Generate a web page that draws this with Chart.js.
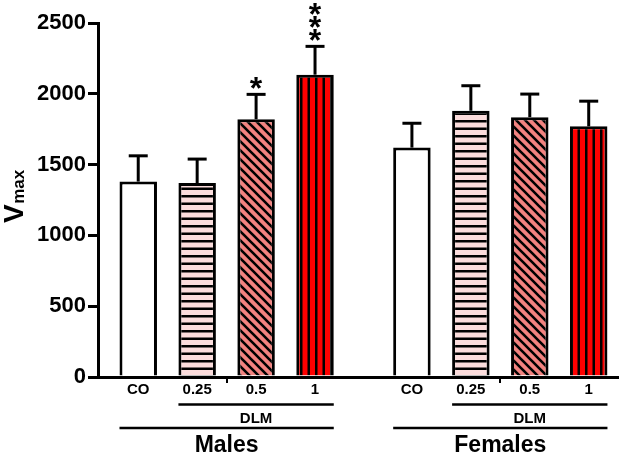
<!DOCTYPE html>
<html><head><meta charset="utf-8">
<script src="https://cdn.jsdelivr.net/npm/chart.js@4/dist/chart.umd.min.js"></script>
<style>html,body{margin:0;padding:0;background:#fff;}</style>
</head><body>
<canvas id="c" width="633" height="457"></canvas>
<script>
// ---- data ----
const groups = ['Males', 'Females'];
const doses = ['CO', '0.25', '0.5', '1'];
const treatment = 'DLM';
const maleMeans = [1380, 1370, 1820, 2135];
const maleSEM = [182, 169, 176, 200];
const femaleMeans = [1620, 1880, 1835, 1770];
const femaleSEM = [172, 177, 163, 178];
const maleSig = ['', '', '*', '***'];
const femaleSig = ['', '', '', ''];
const yTicks = [0, 500, 1000, 1500, 2000, 2500];
const yTitleMain = 'V';
const yTitleSub = 'max';

const meansByGroup = [maleMeans, femaleMeans];
const semByGroup = [maleSEM, femaleSEM];
const sigByGroup = [maleSig, femaleSig];

const FONT = '"Liberation Sans", Arial, sans-serif';
Chart.defaults.font.family = FONT;

const canvas = document.getElementById('c');
const mainCtx = canvas.getContext('2d');

function makePattern(kind, bg) {
  const t = document.createElement('canvas');
  const x = t.getContext('2d');
  if (kind === 'h') {
    t.width = 4; t.height = 15;
    x.fillStyle = bg; x.fillRect(0, 0, 4, 15);
    x.fillStyle = '#000'; x.fillRect(0, 0, 4, 2.5); x.fillRect(0, 7.5, 4, 2.5);
  } else if (kind === 'v') {
    t.width = 15; t.height = 4;
    x.fillStyle = bg; x.fillRect(0, 0, 15, 4);
    x.fillStyle = '#000'; x.fillRect(0, 0, 2.5, 4); x.fillRect(7.5, 0, 2.5, 4);
  } else {
    const p = 9;
    t.width = p; t.height = p;
    x.fillStyle = bg; x.fillRect(0, 0, p, p);
    x.strokeStyle = '#000'; x.lineWidth = 2.6;
    x.beginPath();
    x.moveTo(-2, -2); x.lineTo(p + 2, p + 2);
    x.moveTo(-2, p - 2); x.lineTo(2, p + 2);
    x.moveTo(p - 2, -2); x.lineTo(p + 2, 2);
    x.stroke();
  }
  return mainCtx.createPattern(t, 'repeat');
}

const fills = [
  '#ffffff',
  makePattern('h', '#fbdcdc'),
  makePattern('d', '#f2827f'),
  makePattern('v', '#ff0000')
];

const datasets = doses.map((d, i) => ({
  label: d,
  data: groups.map((g, gi) => ({ x: gi, y: meansByGroup[gi][i] })),
  backgroundColor: fills[i],
  borderColor: '#000',
  borderWidth: 3,
  categoryPercentage: 0.8613,
  barPercentage: 0.636
}));

const annotate = {
  id: 'annotate',
  afterDatasetsDraw(chart) {
    const ctx = chart.ctx;
    const ys = chart.scales.y;
    ctx.save();
    ctx.strokeStyle = '#000';
    ctx.fillStyle = '#000';
    ctx.lineCap = 'butt';
    chart.data.datasets.forEach((ds, d) => {
      const meta = chart.getDatasetMeta(d);
      meta.data.forEach((bar, g) => {
        const top = ys.getPixelForValue(meansByGroup[g][d] + semByGroup[g][d]);
        ctx.lineWidth = 3;
        ctx.beginPath();
        ctx.moveTo(bar.x, bar.y);
        ctx.lineTo(bar.x, top);
        ctx.stroke();
        ctx.beginPath();
        ctx.moveTo(bar.x - 9.5, top);
        ctx.lineTo(bar.x + 9.5, top);
        ctx.stroke();
        const sig = sigByGroup[g][d];
        if (sig) {
          ctx.font = 'bold 32px ' + FONT;
          ctx.textAlign = 'center';
          ctx.textBaseline = 'alphabetic';
          const m = ctx.measureText('*');
          const off = (m.actualBoundingBoxAscent - m.actualBoundingBoxDescent) / 2;
          for (let k = 0; k < sig.length; k++) {
            const cy = top - 11 - k * 13.3;
            ctx.fillText('*', bar.x, cy + off);
          }
        }
      });
    });
    ctx.restore();
  },
  afterDraw(chart) {
    const ctx = chart.ctx;
    ctx.save();
    ctx.fillStyle = '#000';
    ctx.strokeStyle = '#000';
    ctx.textBaseline = 'alphabetic';
    ctx.textAlign = 'center';
    const metas = doses.map((d, i) => chart.getDatasetMeta(i));
    groups.forEach((gname, g) => {
      const bars = metas.map(m => m.data[g]);
      ctx.font = 'bold 15px ' + FONT;
      bars.forEach((b, i) => ctx.fillText(doses[i], b.x, 393.5));
      const l1 = bars[1].x - bars[1].width / 2;
      const r = bars[3].x + bars[3].width / 2;
      const l0 = bars[0].x - bars[0].width / 2;
      ctx.lineWidth = 2.5;
      ctx.beginPath(); ctx.moveTo(l1, 404.5); ctx.lineTo(r, 404.5); ctx.stroke();
      ctx.fillText(treatment, (l1 + r) / 2, 423.3);
      ctx.beginPath(); ctx.moveTo(l0, 428); ctx.lineTo(r, 428); ctx.stroke();
      ctx.font = 'bold 23px ' + FONT;
      ctx.fillText(gname, (l0 + r) / 2, 452.3);
    });
    // y-axis title V_max
    ctx.translate(22.7, 223);
    ctx.rotate(-Math.PI / 2);
    ctx.textAlign = 'left';
    ctx.font = 'bold 28px ' + FONT;
    ctx.fillText(yTitleMain, 0, 0);
    const w = ctx.measureText(yTitleMain).width;
    ctx.font = 'bold 17px ' + FONT;
    ctx.fillText(yTitleSub, w + 0.5, 1.5);
    ctx.restore();
  }
};

new Chart(canvas, {
  type: 'bar',
  data: { datasets },
  options: {
    responsive: false,
    animation: false,
    events: [],
    layout: { padding: { top: 23, right: 15, bottom: 0, left: 0 } },
    plugins: { legend: { display: false }, tooltip: { enabled: false } },
    scales: {
      x: {
        type: 'linear',
        offset: false,
        min: -0.47,
        max: 1.43,
        afterBuildTicks: s => { s.ticks = groups.map((g, i) => ({ value: i })); },
        ticks: { display: false },
        grid: { offset: false, drawOnChartArea: false, color: '#000', lineWidth: 2, tickLength: 6 },
        border: { color: '#000', width: 3 },
        afterFit: s => { s.height = 80; }
      },
      y: {
        min: yTicks[0],
        max: yTicks[yTicks.length - 1],
        afterBuildTicks: s => { s.ticks = yTicks.map(v => ({ value: v })); },
        ticks: { color: '#000', padding: 2, font: { size: 22, weight: 'bold' }, callback: v => String(v) },
        grid: { drawOnChartArea: false, color: '#000', lineWidth: 3, tickLength: 10 },
        border: { color: '#000', width: 3 },
        afterFit: s => { s.width = 98; }
      }
    }
  },
  plugins: [annotate]
});
</script>
</body></html>
